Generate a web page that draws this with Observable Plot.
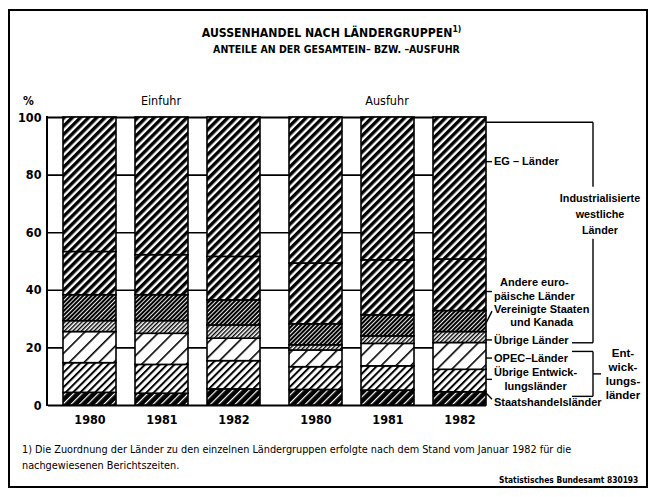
<!DOCTYPE html>
<html>
<head>
<meta charset="utf-8">
<script src="https://cdn.jsdelivr.net/npm/d3@7"></script>
<script src="https://cdn.jsdelivr.net/npm/@observablehq/plot@0.6"></script>
<style>
  html, body { margin: 0; padding: 0; background: #fff; }
  body { width: 651px; height: 497px; position: relative; overflow: hidden;
         font-family: "DejaVu Sans Condensed", "DejaVu Sans", sans-serif; color: #000; }
  #frame { position: absolute; left: 8px; top: 9px; width: 640px; height: 479px; border: 2px solid #000; box-sizing: border-box; }
  .t { position: absolute; width: 651px; text-align: center; font-weight: bold; white-space: nowrap; }
  #title { left: 6px; top: 27px; font-size: 12.2px; line-height: 13px; }
  #title sup { font-size: 8.5px; vertical-align: 5px; line-height: 0; }
  #subtitle { left: 11px; top: 44px; font-size: 10.5px; line-height: 11px; }
  #chart { position: absolute; left: 0; top: 88px; }
  #foot { position: absolute; left: 22px; top: 442px; font-size: 10.8px; line-height: 16px; white-space: nowrap; }
  #source { position: absolute; right: 13px; top: 475px; font-size: 9.5px; line-height: 10px; font-weight: bold;
            white-space: nowrap; transform: scaleX(0.88); transform-origin: right center; }
</style>
</head>
<body>
<div id="frame"></div>
<div id="title" class="t">AUSSENHANDEL NACH LÄNDERGRUPPEN<sup>1)</sup></div>
<div id="subtitle" class="t">ANTEILE AN DER GESAMTEIN– BZW. –AUSFUHR</div>
<div id="chart"></div>
<div id="foot">1) Die Zuordnung der Länder zu den einzelnen Ländergruppen erfolgte nach dem Stand vom Januar 1982 für die<br>nachgewiesenen Berichtszeiten.</div>
<div id="source">Statistisches Bundesamt 830193</div>
<script>
const FONT = '"DejaVu Sans Condensed", "DejaVu Sans", sans-serif';
const LFONT = '"Liberation Sans", Arial, sans-serif';

// ---- data (shares in %, bars in order: Einfuhr 1980, 1981, 1982, Ausfuhr 1980, 1981, 1982)
const flows = ["Einfuhr", "Ausfuhr"];
const years = ["1980", "1981", "1982"];
const groups = ["Staatshandelsländer", "Übrige Entwicklungsländer", "OPEC-Länder", "Übrige Länder",
                "Vereinigte Staaten und Kanada", "Andere europäische Länder", "EG-Länder"];
const staatshandel   = [4.4, 4.1, 5.6, 5.4, 5.2, 4.6];
const uebrigeEntw    = [10.3, 10.0, 9.8, 7.9, 8.4, 7.8];
const opec           = [10.8, 10.8, 7.8, 5.8, 7.8, 9.3];
const uebrigeLaender = [3.8, 4.4, 4.6, 1.8, 2.6, 3.8];
const usaKanada      = [9.0, 9.0, 8.7, 7.3, 7.3, 7.3];
const andereEuropa   = [15.0, 13.9, 15.1, 21.1, 19.1, 17.9];
const egLaender      = [46.7, 47.8, 48.4, 50.7, 49.6, 49.3];
const yTicks = [0, 20, 40, 60, 80, 100];

// right-hand labels (one per group, bottom to top), anchor heights in %
const labelLines = [["Staatshandelsländer"], ["Übrige Entwick-", "lungsländer"], ["OPEC–Länder"], ["Übrige Länder"],
                    ["Vereinigte Staaten", "und Kanada"], ["Andere euro-", "päische Länder"], ["EG – Länder"]];
const labelAt    = [1.0, 8.9, 16.3, 22.6, 31.0, 40.2, 84.5];
const leaderFrom = [4.2, 8.9, 16.3, 22.6, 28.4, 39.4, 84.5];
const leaderTo   = [2.0, 8.9, 16.3, 22.6, 32.6, 39.4, 84.5];
const bracketLines = [["Industrialisierte", "westliche", "Länder"], ["Ent-", "wick-", "lungs-", "länder"]];
const bracketTop    = [98.2, 18.6];
const bracketBottom = [21.6, 3.0];
const bracketTextAt = [66.4, 10.8];

// ---- table built from the arrays
const seriesValues = [staatshandel, uebrigeEntw, opec, uebrigeLaender, usaKanada, andereEuropa, egLaender];
const patternIds = ["p-st", "p-ue", "p-op", "p-ul", "p-us", "p-ae", "p-eg"];
const bars = flows.flatMap(f => years.map(y => ({flow: f, year: y})));
const table = [];
groups.forEach((g, gi) => bars.forEach((b, bi) =>
  table.push({flow: b.flow, year: b.year, group: g, value: seriesValues[gi][bi], pat: `url(#${patternIds[gi]})`})));

const marginLeft = 47;
const plot = Plot.plot({
  width: 651,
  height: 345,
  marginLeft, marginRight: 151, marginTop: 29, marginBottom: 28,
  style: {fontFamily: FONT, fontWeight: "bold", fontSize: "12.5px", color: "black", background: "transparent", overflow: "visible"},
  fx: {domain: flows, padding: 0, axis: null},
  x: {domain: years, paddingInner: 0.27, paddingOuter: 0.195, tickSize: 0, tickPadding: 10, label: null},
  y: {domain: [0, 100], ticks: yTicks, tickSize: 0, tickPadding: 7, label: null},
  color: {type: "identity"},
  marks: [
    Plot.ruleY([20, 40, 60, 80], {stroke: "black", strokeWidth: 1.6}),
    Plot.ruleY([0, 100], {stroke: "black", strokeWidth: 2}),
    Plot.barY(table, {fx: "flow", x: "year", y: "value", z: "group", fill: "pat", stroke: "black", strokeWidth: 1.6})
  ]
});
document.getElementById("chart").appendChild(plot);

// ---- hatch patterns
const svg = d3.select(plot);
const defs = svg.insert("defs", ":first-child");
function hatch(id, period, ink, fg, bg) {
  const p = defs.append("pattern").attr("id", id).attr("patternUnits", "userSpaceOnUse")
    .attr("width", period).attr("height", period).attr("patternTransform", "rotate(45)");
  p.append("rect").attr("width", period).attr("height", period).attr("fill", bg);
  p.append("rect").attr("width", ink).attr("height", period).attr("fill", fg);
}
hatch("p-eg", 5.8, 3.4, "#000", "#fff");
hatch("p-ae", 5.8, 3.4, "#000", "#fff");
hatch("p-us", 3.0, 2.1, "#000", "#fff");
hatch("p-ul", 3.0, 1.4, "#000", "#fff");
hatch("p-op", 10.5, 1.6, "#000", "#fff");
hatch("p-ue", 5.2, 2.0, "#000", "#fff");
hatch("p-st", 5.8, 1.2, "#fff", "#000");

// ---- annotations using the plot's scales
const yS = plot.scale("y");
const fxS = plot.scale("fx");
const svgBox = plot.getBoundingClientRect();
let barRight = 0;
svg.selectAll('g[aria-label="bar"] rect').each(function () {
  const r = this.getBoundingClientRect();
  barRight = Math.max(barRight, r.right - svgBox.left);
});
// grid rules end at the last bar
svg.selectAll('g[aria-label="rule"] line').each(function () {
  const r = this.getBoundingClientRect();
  const over = r.right - svgBox.left - barRight;
  if (over > 0.5) d3.select(this).attr("x2", +this.getAttribute("x2") - over);
});

const Y = v => yS.apply(v);
const g = svg.append("g").attr("font-family", LFONT).attr("font-weight", "bold").attr("fill", "black").attr("text-anchor", "start");
const line = (x1, y1, x2, y2, w = 1.4) => g.append("line").attr("x1", x1).attr("y1", y1).attr("x2", x2).attr("y2", y2)
  .attr("stroke", "black").attr("stroke-width", w);

// left frame
line(marginLeft, Y(0) + 1, marginLeft, Y(100) - 1, 2);

// % and flow headers
g.append("text").attr("x", 23).attr("y", 17).attr("font-family", FONT).attr("font-size", 12).text("%");
flows.forEach(f => {
  g.append("text").attr("x", fxS.apply(f) + fxS.bandwidth / 2).attr("y", 17).attr("font-family", FONT)
    .attr("text-anchor", "middle").attr("font-size", 12.5).attr("font-weight", "normal").text(f);
});

// group labels with leader lines
const lx = barRight + 8, lh = 13.5;
labelLines.forEach((lines, i) => {
  const cy = Y(labelAt[i]);
  const t = g.append("text").attr("font-size", 11);
  const spans = lines.map((s, k) => t.append("tspan").attr("x", lx)
    .attr("y", cy + (k - (lines.length - 1) / 2) * lh).attr("dy", "0.35em").text(s));
  if (lines.length > 1) {
    const w = spans.map(s => s.node().getComputedTextLength());
    const mw = Math.max(...w);
    spans.forEach((s, k) => s.attr("x", lx + (mw - w[k]) / 2));
  }
  line(barRight, Y(leaderFrom[i]), lx - 2, Y(leaderTo[i]), 1.4);
});

// brackets
const xb = barRight + 107;
bracketLines.forEach((lines, i) => {
  const top = Y(bracketTop[i]), bot = Y(bracketBottom[i]), cy = Y(bracketTextAt[i]);
  const th = i === 0 ? 16 : 14;
  if (i === 0) {
    line(barRight, top, xb, top);
    line(xb, top, xb, cy - th * 1.5 - 3);
    line(xb, cy + th * 1.5 + 1, xb, bot);
    line(xb - 21, bot, xb, bot);
  } else {
    line(xb - 21, top, xb, top);
    line(xb, top, xb, bot);
    line(xb - 21, bot, xb, bot);
    line(xb, cy, xb + 8, cy);
  }
  const tx = i === 0 ? xb + 7 : xb + 30;
  const t = g.append("text").attr("font-size", i === 0 ? 10.8 : 11.5).attr("text-anchor", "middle");
  lines.forEach((s, k) => t.append("tspan").attr("x", tx)
    .attr("y", cy + (k - (lines.length - 1) / 2) * th).attr("dy", "0.35em").text(s));
});
</script>
</body>
</html>
